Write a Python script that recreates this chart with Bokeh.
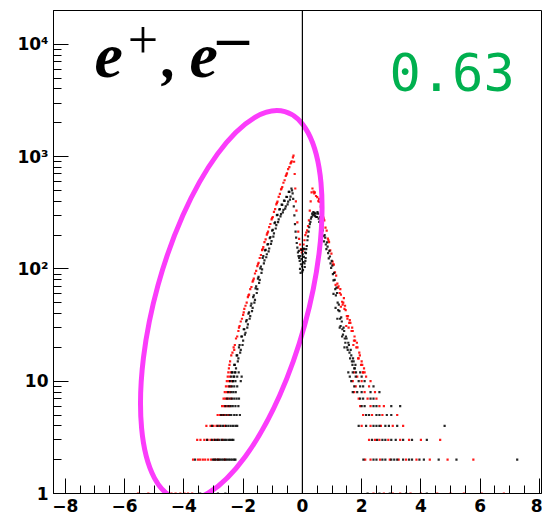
import math
from bokeh.plotting import figure
from bokeh.models import Span, Label, FixedTicker, SingleIntervalTicker, Range1d
from bokeh.embed import file_html
from bokeh.resources import INLINE

# ---------------- data ----------------
# red series: left slope
red_left_x = [-2.48, -2.44, -2.40, -2.36, -2.32, -2.28, -2.24, -2.20, -2.16, -2.12,
              -2.08, -2.04, -2.00, -1.96, -1.92, -1.88, -1.84, -1.80, -1.76, -1.72,
              -1.68, -1.64, -1.60, -1.56, -1.52, -1.48, -1.44, -1.40, -1.36, -1.32,
              -1.28, -1.24, -1.20, -1.16, -1.12, -1.08, -1.04, -1.00, -0.96, -0.92,
              -0.88, -0.84, -0.80, -0.76, -0.72, -0.68, -0.64, -0.60, -0.56, -0.52,
              -0.48, -0.44, -0.40, -0.36, -0.32]
red_left_y = [13, 15, 17, 18, 20, 21, 24, 25, 28, 31,
              34, 36, 39, 44, 47, 50, 56, 59, 66, 69,
              77, 82, 91, 96, 106, 113, 125, 133, 147, 156,
              173, 183, 202, 215, 236, 251, 276, 290, 322, 341,
              376, 398, 438, 466, 510, 536, 585, 616, 672, 709,
              772, 805, 869, 906, 985]
# red series: peak, dip around zero, second peak
red_mid_x = [-0.30, -0.28, -0.26, -0.24, -0.22, -0.20, -0.17, -0.14, -0.11, -0.08,
             -0.05, -0.02, 0.01, 0.04, 0.07, 0.10, 0.13, 0.16, 0.19, 0.22,
             0.25, 0.28, 0.31]
red_mid_y = [1020, 900, 700, 520, 400, 330, 260, 215, 185, 165,
             150, 140, 145, 165, 180, 200, 210, 220, 240, 270,
             330, 400, 480]
# red series: right slope
red_right_x = [0.34, 0.38, 0.42, 0.46, 0.50, 0.54, 0.58, 0.62, 0.66, 0.70,
               0.74, 0.78, 0.82, 0.86, 0.90, 0.94, 0.98, 1.02, 1.06, 1.10,
               1.14, 1.18, 1.22, 1.26, 1.30, 1.34, 1.38, 1.42, 1.46, 1.50,
               1.54, 1.58, 1.62, 1.66, 1.70, 1.74, 1.78, 1.82, 1.86, 1.90,
               1.94, 1.98, 2.02]
red_right_y = [520, 488, 480, 446, 436, 402, 395, 358, 333, 289,
               270, 233, 219, 186, 173, 146, 137, 116, 109, 93,
               87, 74, 70, 61, 59, 51, 50, 44, 43, 38,
               38, 33, 33, 28, 28, 23, 23, 20, 20, 16,
               17, 14, 14]
red_extra_x = [-2.46, -2.30, -2.14, -1.98, -1.82, -1.66, -1.50, -1.34, -1.18, -1.02,
               -0.86, -0.70, -0.54, -0.38, 0.40, 0.56, 0.72, 0.88, 1.04, 1.20,
               1.28, 1.36, 1.44, 1.52, 1.60, 1.68, 1.76, 1.84, 1.92, 2.00,
               2.08, 1.40, 1.56, 1.72, 1.88, 2.04, 2.10, 1.12, 1.30, 1.48]
red_extra_y = [14, 19, 30, 41, 58, 79, 110, 150, 208, 283,
               387, 520, 690, 890, 470, 420, 280, 180, 110, 68,
               66, 48, 47, 36, 35, 30, 25, 22, 18, 15,
               13, 55, 30, 21, 16, 12, 12, 72, 46, 31]
# red low-count rows: count -> bin centres
red_rows_left = {
    1: [-5.55, -5.2, -4.42, -4.28, -4.12, -3.98, -3.86, -3.72],
    2: [-3.69, -3.52, -3.45, -3.36, -3.28, -3.18, -3.08, -2.96, -2.84, -2.62],
    3: [-3.55, -3.44, -3.31, -3.2, -3.1, -2.98, -2.85, -2.7],
    4: [-3.24, -3.1, -3.0, -2.9, -2.8, -2.62],
    5: [-2.86, -2.78, -2.7, -2.62, -2.5],
    6: [-2.71, -2.64, -2.56, -2.46],
    7: [-2.66, -2.6, -2.52, -2.4],
    8: [-2.62, -2.55, -2.45],
    9: [-2.58, -2.5, -2.42],
    10: [-2.55, -2.48, -2.38],
    11: [-2.52, -2.45],
    12: [-2.5, -2.42],
}
red_rows_right = {
    1: [2.4, 2.75, 3.05, 3.3, 3.65, 4.0, 4.55, 5.0, 5.45, 6.05, 6.8],
    2: [2.12, 2.3, 2.62, 2.95, 3.25, 3.5, 3.85, 4.3, 4.9, 5.77],
    3: [2.25, 2.45, 2.6, 2.9, 3.3, 3.6, 4.0, 4.65],
    4: [2.0, 2.3, 2.65, 3.05, 3.4],
    5: [2.05, 2.35, 2.7, 3.2],
    6: [1.95, 2.3, 2.6, 2.75],
    7: [1.9, 2.2, 2.5],
    8: [1.75, 2.1, 2.45],
    9: [1.8, 2.25],
    10: [1.7, 2.0, 2.3],
    11: [1.85, 2.15],
    12: [1.75, 2.05],
}

# black series: left slope (two interleaved sets)
black_left_x = [-2.36, -2.32, -2.28, -2.24, -2.20, -2.16, -2.12, -2.08, -2.04, -2.00,
                -1.96, -1.92, -1.88, -1.84, -1.80, -1.76, -1.72, -1.68, -1.64, -1.60,
                -1.56, -1.52, -1.48, -1.44, -1.40, -1.36, -1.32, -1.28, -1.24, -1.20,
                -1.16, -1.12, -1.08, -1.04, -1.00, -0.96, -0.92, -0.88, -0.84, -0.80,
                -0.76, -0.72, -0.68, -0.64, -0.60, -0.56, -0.52, -0.48, -0.44, -0.40,
                -0.37]
black_left_y = [12, 11, 14, 13, 17, 16, 21, 19, 25, 23,
                29, 27, 35, 32, 41, 38, 49, 45, 58, 53,
                70, 66, 85, 80, 105, 99, 130, 119, 148, 135,
                166, 152, 192, 177, 223, 207, 260, 245, 303, 276,
                340, 308, 372, 335, 404, 360, 437, 398, 485, 440,
                520]
black_left2_x = [-2.34, -2.30, -2.26, -2.22, -2.18, -2.14, -2.10, -2.06, -2.02, -1.98,
                 -1.94, -1.90, -1.86, -1.82, -1.78, -1.74, -1.70, -1.66, -1.62, -1.58,
                 -1.54, -1.50, -1.46, -1.42, -1.38, -1.34, -1.30, -1.26, -1.22, -1.18,
                 -1.14, -1.10, -1.06, -1.02, -0.98, -0.94, -0.90, -0.86, -0.82, -0.78,
                 -0.74, -0.70, -0.66, -0.62, -0.58, -0.54, -0.50, -0.46, -0.42]
black_left2_y = [10, 14, 12, 17, 15, 20, 18, 25, 21, 29,
                 26, 34, 30, 40, 36, 47, 42, 56, 50, 67,
                 61, 82, 75, 101, 92, 125, 112, 146, 127, 165,
                 143, 188, 167, 219, 194, 256, 229, 301, 261, 338,
                 293, 374, 319, 405, 344, 438, 376, 485, 414]
# black series: peak, dip around zero, second peak
black_mid_x = [-0.35, -0.33, -0.31, -0.29, -0.27, -0.25, -0.23, -0.21, -0.19, -0.17,
               -0.15, -0.13, -0.11, -0.09, -0.07, -0.05, -0.03, -0.01, 0.01, 0.03,
               0.05, 0.07, 0.09, 0.11, 0.13, 0.15, 0.17, 0.19, 0.21, 0.23,
               0.25, 0.27, 0.29, 0.31, 0.33, 0.35, 0.37, 0.39, 0.41, 0.43,
               0.45, 0.47, -0.12, -0.08, -0.04, 0.00, 0.04, 0.08, 0.12, -0.06,
               0.02, 0.06, 0.10]
black_mid_y = [500, 470, 420, 360, 300, 250, 215, 190, 170, 155,
               140, 130, 125, 118, 130, 110, 122, 105, 135, 115,
               128, 112, 140, 125, 150, 160, 180, 195, 215, 235,
               250, 262, 280, 290, 310, 300, 320, 305, 315, 295,
               310, 290, 145, 100, 148, 95, 152, 104, 138, 92,
               98, 150, 118]
# black series: right slope (two interleaved sets)
black_right_x = [0.49, 0.53, 0.57, 0.61, 0.65, 0.69, 0.73, 0.77, 0.81, 0.85,
                 0.89, 0.93, 0.97, 1.01, 1.05, 1.09, 1.13, 1.17, 1.21, 1.25,
                 1.29, 1.33, 1.37, 1.41, 1.45, 1.49, 1.53, 1.57, 1.61, 1.65,
                 1.69, 1.73, 1.77, 1.81]
black_right_y = [290, 310, 262, 268, 212, 220, 176, 190, 150, 158,
                 124, 129, 102, 107, 79, 80, 58, 61, 43, 42,
                 31, 34, 26, 28, 22, 24, 19, 21, 16, 17,
                 14, 15, 13, 12]
black_right2_x = [0.51, 0.55, 0.59, 0.63, 0.67, 0.71, 0.75, 0.79, 0.83, 0.87,
                  0.91, 0.95, 0.99, 1.03, 1.07, 1.11, 1.15, 1.19, 1.23, 1.27,
                  1.31, 1.35, 1.39, 1.43, 1.47, 1.51, 1.55, 1.59, 1.63, 1.67,
                  1.71, 1.75, 1.79, 1.05, 1.12, 1.18, 1.26, 1.34, 1.42]
black_right2_y = [320, 280, 290, 240, 230, 196, 200, 165, 172, 138,
                  145, 112, 118, 90, 92, 66, 68, 50, 48, 36,
                  37, 29, 30, 24, 25, 20, 22, 18, 19, 15,
                  16, 13, 14, 60, 45, 36, 30, 25, 20]
black_rows_left = {
    1: [-3.45, -3.1, -2.85, -2.6],
    2: [-3.62, -3.02, -2.96, -2.9, -2.84, -2.78, -2.72, -2.66, -2.6, -2.54, -2.48, -2.42, -2.36, -2.3, -2.26],
    3: [-3.22, -3.05, -2.95, -2.88, -2.8, -2.72, -2.64, -2.58, -2.5, -2.44, -2.38, -2.33],
    4: [-3.05, -2.86, -2.76, -2.68, -2.58, -2.5, -2.42, -2.34, -2.26, -2.2],
    5: [-2.74, -2.66, -2.56, -2.46, -2.4, -2.3, -2.22, -2.11],
    6: [-2.6, -2.5, -2.42, -2.35, -2.26, -2.16],
    7: [-2.55, -2.46, -2.38, -2.3, -2.22, -2.14],
    8: [-2.5, -2.4, -2.33, -2.25],
    9: [-2.46, -2.38, -2.3, -2.2],
    10: [-2.44, -2.35, -2.26, -2.08],
    11: [-2.4, -2.3, -2.2, -2.05],
    12: [-2.38, -2.28, -2.15],
}
black_rows_right = {
    1: [2.2, 2.6, 2.95, 3.5, 4.2],
    2: [2.06, 2.4, 2.5, 2.7, 2.8, 3.0, 3.1, 3.2, 3.4, 3.6, 3.7, 3.95, 4.1, 4.6, 5.2, 7.25],
    3: [2.35, 2.52, 2.7, 2.8, 3.0, 3.15, 3.4, 3.7, 4.2],
    4: [1.9, 2.15, 2.4, 2.5, 2.6, 2.8, 2.92, 3.2, 4.8],
    5: [2.15, 2.25, 2.5, 2.6, 2.85, 3.0],
    6: [2.0, 2.1, 2.4, 2.5, 3.0, 3.3],
    7: [1.95, 2.05, 2.3, 2.4],
    8: [1.7, 1.85, 2.0, 2.3, 2.6],
    9: [1.75, 1.95, 2.05, 2.4],
    10: [1.65, 1.9, 2.1],
    11: [1.6, 1.8, 2.0],
    12: [1.55, 1.7, 1.95],
}

x_major_labels = {-8: "\u22128", -6: "\u22126", -4: "\u22124", -2: "\u22122",
                  0: "0", 2: "2", 4: "4", 6: "6", 8: "8"}
y_major_ticks = [1, 10, 100, 1000, 10000]
y_major_labels = {1: "1", 10: "10", 100: "10\u00b2", 1000: "10\u00b3", 10000: "10\u2074"}

value_text = "0.63"

# ---------------- helpers ----------------
def flatten_rows(rows):
    xs, ys = [], []
    for n, lst in rows.items():
        for v in lst:
            xs.append(v)
            ys.append(n)
    return xs, ys

rrl_x, rrl_y = flatten_rows(red_rows_left)
rrr_x, rrr_y = flatten_rows(red_rows_right)
brl_x, brl_y = flatten_rows(black_rows_left)
brr_x, brr_y = flatten_rows(black_rows_right)

red_x = red_left_x + red_mid_x + red_right_x + red_extra_x + rrl_x + rrr_x
red_y = red_left_y + red_mid_y + red_right_y + red_extra_y + rrl_y + rrr_y
black_x = black_left_x + black_left2_x + black_mid_x + black_right_x + black_right2_x + brl_x + brr_x
black_y = black_left_y + black_left2_y + black_mid_y + black_right_y + black_right2_y + brl_y + brr_y

# ---------------- figure ----------------
XMIN, XMAX = -8.4, 8.07
p = figure(width=542, height=518, x_range=Range1d(XMIN, XMAX), y_range=Range1d(1, 20000),
           y_axis_type="log", output_backend="svg", toolbar_location=None,
           min_border_left=53, min_border_right=1, min_border_top=10, min_border_bottom=25)
p.xgrid.visible = False
p.ygrid.visible = False
p.outline_line_color = "black"
p.outline_line_width = 1
p.background_fill_color = "white"
p.border_fill_color = "white"

label_font = "DejaVu Sans"

xa = p.xaxis[0]
xa.ticker = SingleIntervalTicker(interval=2, num_minor_ticks=4)
xa.major_label_overrides = x_major_labels
xa.major_tick_in = 15
xa.major_tick_out = 0
xa.minor_tick_in = 8
xa.minor_tick_out = 0
xa.major_label_standoff = 5
xa.major_label_text_font = label_font
xa.major_label_text_font_style = "bold"
xa.major_label_text_font_size = "17px"
xa.major_label_text_color = "black"
xa.axis_line_color = "black"

ya = p.yaxis[0]
ya.ticker = FixedTicker(ticks=y_major_ticks,
                        minor_ticks=[m * 10 ** k for k in range(5) for m in range(2, 10)])
ya.major_label_overrides = y_major_labels
ya.major_tick_in = 15
ya.major_tick_out = 0
ya.minor_tick_in = 8
ya.minor_tick_out = 0
ya.major_label_standoff = 5
ya.major_label_text_font = label_font
ya.major_label_text_font_style = "bold"
ya.major_label_text_font_size = "17px"
ya.major_label_text_color = "black"
ya.axis_line_color = "black"

px_per_unit = 488.0 / (XMAX - XMIN)

def x_at_px(px):
    return XMIN + (px - 53) / px_per_unit

# data points
p.scatter(red_x, red_y, marker="square", size=2.2, fill_color="#ff0000", line_color=None, fill_alpha=0.9)
p.scatter(black_x, black_y, marker="square", size=2.2, fill_color="#000000", line_color=None, fill_alpha=0.85)

# vertical line at zero
p.add_layout(Span(location=0, dimension="height", line_color="black", line_width=1.2))

# magenta ellipse (screen-size, centred on a data point)
p.ellipse(x=[-2.40], y=[47.3], width=152, height=402, angle=-0.27,
          width_units="screen", height_units="screen",
          fill_color=None, line_color="#fb3cfb", line_width=5)

# title "e+, e-"
tf = "Liberation Serif"
p.add_layout(Label(x=x_at_px(94), y=7880, text="e", text_font=tf, text_font_style="bold italic",
                   text_font_size="64px", text_color="black",
                   text_baseline="middle", text_align="left"))
p.add_layout(Label(x=x_at_px(142.5), y=10950, text="+", text_font=tf,
                   text_font_size="54px", text_color="black",
                   text_baseline="middle", text_align="center"))
p.add_layout(Label(x=x_at_px(162), y=7550, text=",", text_font=tf, text_font_style="bold italic",
                   text_font_size="58px", text_color="black",
                   text_baseline="middle", text_align="left"))
p.add_layout(Label(x=x_at_px(189), y=7880, text="e", text_font=tf, text_font_style="bold italic",
                   text_font_size="64px", text_color="black",
                   text_baseline="middle", text_align="left"))
p.add_layout(Label(x=x_at_px(232.5), y=10850, text="\u2212", text_font="DejaVu Sans",
                   text_font_size="52px", text_color="black",
                   text_baseline="middle", text_align="center"))

# green number
p.add_layout(Label(x=x_at_px(389), y=5630, text=value_text, text_font="DejaVu Sans Mono",
                   text_font_size="52px", text_color="#00b04f",
                   text_baseline="middle", text_align="left"))

open("out.html", "w").write(file_html(p, INLINE))
